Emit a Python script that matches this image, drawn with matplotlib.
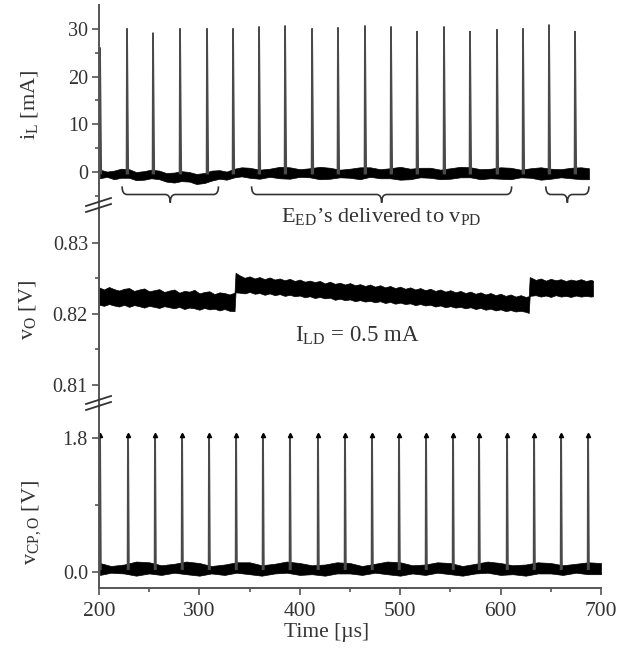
import matplotlib
matplotlib.use('Agg')
import matplotlib.pyplot as plt
import numpy as np
from matplotlib.path import Path
from matplotlib.patches import PathPatch
from matplotlib.lines import Line2D

plt.rcParams['font.family'] = 'serif'
plt.rcParams['font.serif'] = ['Liberation Serif', 'DejaVu Serif']
plt.rcParams['mathtext.fontset'] = 'custom'
plt.rcParams['mathtext.rm'] = 'Liberation Serif'
plt.rcParams['mathtext.it'] = 'Liberation Serif:italic'

# inductor current i_L: pulse times [us] and peaks [mA]
il_spike_t = [201, 227.9, 253.8, 280.7, 307.6, 333.5, 359.4, 385.3, 412.2, 438.0,
              464.9, 490.8, 516.7, 543.6, 569.5, 596.4, 622.3, 648.2, 674.1]
il_spike_pk = [26.0, 30.0, 29.1, 30.0, 30.0, 30.0, 30.4, 30.6, 30.0, 30.2,
               30.6, 30.4, 29.4, 30.4, 29.4, 29.8, 30.0, 30.8, 29.4]
# noise band of i_L between pulses
il_t = [201, 208, 215, 222, 230, 237, 245, 252, 260, 267, 275, 282, 290, 297, 305,
        312, 320, 327, 335, 342, 350, 360, 370, 380, 390, 400, 410, 420, 430, 440,
        450, 460, 470, 480, 490, 500, 510, 520, 530, 540, 550, 560, 570, 580, 590,
        600, 610, 620, 630, 640, 650, 660, 670, 680, 688]
il_hi = [0.5, 0.1, 0.3, 0.7, 0.6, 0.0, 0.2, 0.5, 0.3, -0.2, -0.1, 0.2, 0.0, -0.4, -0.2,
         0.3, 0.4, 0.1, 0.7, 1.0, 0.9, 0.5, 0.7, 1.1, 1.0, 0.6, 0.8, 1.1, 0.9, 0.5,
         0.7, 1.0, 1.0, 0.6, 0.8, 1.1, 0.7, 0.9, 0.9, 0.5, 0.8, 1.1, 1.0, 0.6, 0.7,
         1.0, 0.9, 0.5, 0.8, 1.0, 0.7, 0.6, 0.9, 1.0, 0.8]
il_lo = [-1.3, -1.0, -1.5, -1.2, -1.2, -1.7, -1.6, -1.3, -1.5, -2.0, -2.2, -1.9, -2.0, -2.5, -2.3,
         -1.8, -1.4, -1.6, -1.1, -0.9, -1.2, -1.4, -1.0, -1.3, -1.4, -1.0, -1.1, -1.5, -1.4, -1.1,
         -1.2, -1.5, -1.0, -1.3, -1.3, -1.6, -1.5, -1.1, -1.2, -1.5, -1.4, -1.1, -1.1, -1.5, -1.3,
         -1.4, -1.5, -1.1, -1.2, -1.6, -1.4, -1.1, -1.3, -1.5, -1.5]

# output voltage v_O noise band [V], steps at the skipped pulses
vo_t = [200, 205, 210, 215, 220, 225, 230, 235, 240, 245, 250, 255, 260, 265,
        270, 275, 280, 285, 290, 295, 300, 305, 310, 315, 320, 325, 330, 335,
        336, 340, 345, 350, 355, 360, 365, 370, 375, 380, 385, 390, 395, 400,
        405, 410, 415, 420, 425, 430, 435, 440, 445, 450, 455, 460, 465, 470,
        475, 480, 485, 490, 495, 500, 505, 510, 515, 520, 525, 530, 535, 540,
        545, 550, 555, 560, 565, 570, 575, 580, 585, 590, 595, 600, 605, 610,
        615, 620, 625, 628,
        629, 635, 640, 645, 650, 655, 660, 665, 670, 675, 680, 685, 690, 692]
vo_hi = [.82375, .82345, .82380, .82350, .82330, .82355, .82365, .82325, .82345, .82360,
         .82320, .82335, .82350, .82310, .82330, .82345, .82300, .82325, .82315, .82340,
         .82290, .82310, .82320, .82280, .82305, .82295, .82275, .82300,
         .82580, .82545, .82510, .82530, .82500, .82520, .82490, .82515, .82485, .82500,
         .82475, .82495, .82465, .82485, .82455, .82470, .82450, .82465, .82430, .82455,
         .82425, .82440, .82415, .82435, .82405, .82420, .82395, .82415, .82385, .82405,
         .82375, .82395, .82365, .82385, .82355, .82375, .82345, .82365, .82335, .82355,
         .82325, .82345, .82315, .82335, .82305, .82325, .82295, .82315, .82285, .82305,
         .82275, .82295, .82265, .82285, .82255, .82275, .82245, .82265, .82240, .82250,
         .82520, .82480, .82500, .82470, .82495, .82475, .82490, .82465, .82485, .82470,
         .82490, .82465, .82480, .82470]
vo_lo = [.82130, .82115, .82140, .82120, .82105, .82130, .82100, .82125, .82110, .82090,
         .82115, .82100, .82085, .82110, .82095, .82080, .82100, .82070, .82090, .82080,
         .82060, .82085, .82065, .82075, .82050, .82070, .82045, .82040,
         .82305, .82300, .82290, .82310, .82285, .82295, .82270, .82290, .82265, .82280,
         .82255, .82270, .82250, .82260, .82235, .82250, .82225, .82240, .82220, .82230,
         .82200, .82215, .82195, .82205, .82180, .82195, .82175, .82185, .82165, .82180,
         .82155, .82170, .82145, .82160, .82140, .82150, .82125, .82140, .82120, .82130,
         .82105, .82120, .82095, .82110, .82090, .82100, .82080, .82095, .82070, .82085,
         .82060, .82075, .82050, .82065, .82040, .82055, .82035, .82045, .82030, .82015,
         .82255, .82265, .82245, .82260, .82240, .82265, .82245, .82255, .82240, .82260,
         .82245, .82255, .82245, .82250]

# comparator output v_CP,O: pulse times [us] and peaks [V]
cp_spike_t = [201, 228.9, 255.8, 282.7, 309.6, 336.5, 363.3, 390.2, 418.1, 445.0,
              471.9, 498.8, 525.7, 552.6, 578.5, 606.4, 633.3, 660.2, 687.1]
cp_spike_pk = [1.84] * 19
cp_t = [201, 212, 225, 237, 250, 262, 275, 287, 300, 312, 325, 337, 350, 362, 375,
        387, 400, 412, 425, 437, 450, 462, 475, 487, 500, 512, 525, 537, 550, 562,
        575, 587, 600, 612, 625, 637, 650, 662, 675, 687, 700]
cp_hi = [0.12, 0.08, 0.10, 0.14, 0.13, 0.09, 0.11, 0.14, 0.12, 0.08, 0.10, 0.13, 0.13, 0.09,
         0.11, 0.14, 0.12, 0.09, 0.10, 0.13, 0.12, 0.08, 0.11, 0.14, 0.13, 0.09, 0.10, 0.13,
         0.12, 0.08, 0.11, 0.14, 0.12, 0.09, 0.10, 0.13, 0.12, 0.09, 0.11, 0.13, 0.12]
cp_lo = [-0.04, -0.01, -0.02, -0.05, -0.02, -0.04, -0.01, -0.03, -0.05, -0.02, -0.04, -0.01,
         -0.03, -0.05, -0.02, -0.01, -0.04, -0.03, -0.05, -0.02, -0.02, -0.04, -0.01, -0.03,
         -0.05, -0.02, -0.04, -0.01, -0.03, -0.05, -0.02, -0.01, -0.04, -0.03, -0.05, -0.02,
         -0.02, -0.04, -0.01, -0.03, -0.03]

# groups of pulses whose energy goes to v_PD (start, end) [us]
braces = [(223, 319), (352, 611), (645, 688)]

TXT = '#333333'
AX = '#555555'


def spike_trace(times, peaks, base, rise=0.4, fall=1.2):
    xs, ys = [], []
    for t, p in zip(times, peaks):
        xs += [t - rise, t, t + fall, np.nan]
        ys += [base, p, base, np.nan]
    return np.array(xs), np.array(ys)


def draw_brace(ax, x0, x1, y_top, y_mid, y_tip, r=5):
    xm = (x0 + x1) / 2
    verts = [(x0, y_top), (x0, y_mid), (x0 + r, y_mid),
             (xm - r, y_mid), (xm, y_mid), (xm, y_tip),
             (xm, y_mid), (xm + r, y_mid),
             (x1 - r, y_mid), (x1, y_mid), (x1, y_top)]
    codes = [Path.MOVETO, Path.CURVE3, Path.CURVE3, Path.LINETO,
             Path.CURVE3, Path.CURVE3, Path.CURVE3, Path.CURVE3,
             Path.LINETO, Path.CURVE3, Path.CURVE3]
    ax.add_patch(PathPatch(Path(verts, codes), fill=False, lw=1.2,
                           ec=TXT, clip_on=False))


fig = plt.figure(figsize=(6.21, 6.56), dpi=100)
left, width = 0.1594, 0.8084
ax1 = fig.add_axes([left, 0.6875, width, 0.3049])
ax2 = fig.add_axes([left, 0.3826, width, 0.3049])
ax3 = fig.add_axes([left, 0.1037, width, 0.2790])

for ax in (ax1, ax2, ax3):
    ax.set_xlim(200, 700)
    ax.patch.set_alpha(0)
    for s in ('top', 'right'):
        ax.spines[s].set_visible(False)
    ax.spines['left'].set_color(AX)
    ax.spines['left'].set_linewidth(1.4)
    ax.spines['bottom'].set_color(AX)
    ax.spines['bottom'].set_linewidth(1.4)
    ax.tick_params(which='both', direction='out', color=AX, width=1.2,
                   labelcolor=TXT, labelsize=14.5, pad=3)
    ax.tick_params(which='major', length=5)
    ax.tick_params(which='minor', length=3)

for ax in (ax1, ax2):
    ax.spines['bottom'].set_visible(False)
    ax.tick_params(axis='x', which='both', bottom=False, labelbottom=False)

# i_L panel
ax1.fill_between(il_t, il_lo, il_hi, color='black', lw=0.5)
sx, sy = spike_trace(il_spike_t, il_spike_pk, -0.3)
ax1.plot(sx, sy, color='#4a4a4a', lw=1.3)
ax1.set_ylim(-6.9, 35.0)
ax1.set_yticks([0, 10, 20, 30])
ax1.set_yticks([-5, 5, 15, 25], minor=True)
for b0, b1 in braces:
    draw_brace(ax1, b0, b1, -3.0, -4.7, -6.4)

# v_O panel
ax2.fill_between(vo_t, vo_lo, vo_hi, color='black', lw=0.5)
ax2.set_ylim(0.80718, 0.83535)
ax2.set_yticks([0.81, 0.82, 0.83])
ax2.set_yticklabels(['0.81', '0.82', '0.83'])
ax2.set_yticks([0.815, 0.825], minor=True)
ax2.text(481, 0.8337, 'E$_{\\mathrm{ED}}$\u2019s delivered to v$_{\\mathrm{PD}}$',
         ha='center', va='center', fontsize=16, color=TXT)
ax2.text(457, 0.8169, 'I$_{\\mathrm{LD}}$ = 0.5 mA',
         ha='center', va='center', fontsize=16.5, color=TXT)

# v_CP,O panel
ax3.fill_between(cp_t, cp_lo, cp_hi, color='black', lw=0.5)
sx, sy = spike_trace(cp_spike_t, cp_spike_pk, 0.04, rise=0.3, fall=0.8)
ax3.plot(sx, sy, color='#4a4a4a', lw=1.4)
ax3.plot(cp_spike_t, cp_spike_pk, ls='none', marker='^', ms=3, color='black')
ax3.set_ylim(-0.215, 2.243)
ax3.set_yticks([0.0, 1.8])
ax3.set_yticklabels(['0.0', '1.8'])
ax3.set_yticks([0.9], minor=True)
ax3.set_xticks([200, 300, 400, 500, 600, 700])
ax3.set_xticks([250, 350, 450, 550, 650], minor=True)
ax3.tick_params(axis='x', labelsize=15.5, pad=5)

# axis labels
W, H = 621, 656
fig.text(29 / W, 1 - 105 / H, 'i$_{\\mathrm{L}}$ [mA]', rotation=90,
         ha='center', va='center', fontsize=16, color=TXT)
fig.text(28 / W, 1 - 310 / H, 'v$_{\\mathrm{O}}$ [V]', rotation=90,
         ha='center', va='center', fontsize=16, color=TXT)
fig.text(32 / W, 1 - 522 / H, 'v$_{\\mathrm{CP,O}}$ [V]', rotation=90,
         ha='center', va='center', fontsize=16, color=TXT)
fig.text(327 / W, 1 - 632 / H, 'Time [\u00b5s]', ha='center', va='center',
         fontsize=15.5, color=TXT)

# axis break marks on the shared left spine
for yb in (205, 403):
    for dy in (-3, 3):
        fig.add_artist(Line2D([86 / W, 111 / W],
                              [1 - (yb + dy + 4) / H, 1 - (yb + dy - 4) / H],
                              color=TXT, lw=1.3))

fig.savefig('out.png', dpi=100)
